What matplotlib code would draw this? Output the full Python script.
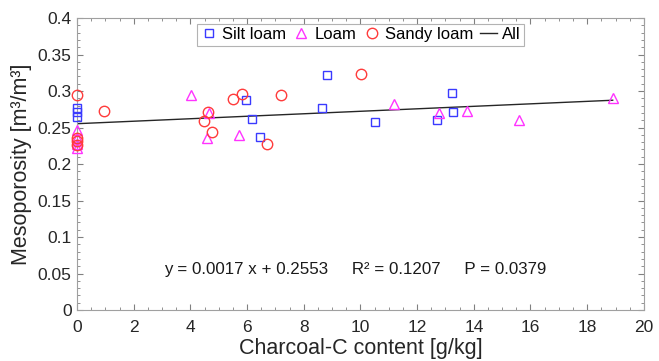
import numpy as np
import matplotlib
matplotlib.use("Agg")
import matplotlib.pyplot as plt
from matplotlib.ticker import MultipleLocator

plt.rcParams["font.family"] = ["Liberation Sans", "DejaVu Sans"]

# data
silt_x = [0, 0, 0, 5.96, 6.17, 6.46, 8.64, 8.82, 10.51, 12.7, 13.23, 13.26]
silt_y = [0.277, 0.271, 0.265, 0.288, 0.262, 0.237, 0.277, 0.322, 0.258, 0.260, 0.297, 0.271]

loam_x = [0, 0, 0, 0, 4.02, 4.58, 4.65, 5.71, 11.2, 12.77, 13.76, 15.6, 18.9]
loam_y = [0.246, 0.236, 0.228, 0.222, 0.294, 0.236, 0.270, 0.240, 0.282, 0.270, 0.273, 0.260, 0.290]

sandy_x = [0, 0, 0, 0, 0.95, 4.48, 4.62, 4.76, 5.5, 5.82, 6.7, 7.2, 10.02]
sandy_y = [0.294, 0.236, 0.232, 0.226, 0.273, 0.259, 0.271, 0.244, 0.289, 0.296, 0.227, 0.295, 0.323]

SLOPE = 0.0017
INTERCEPT = 0.2553
STATS_TEXT = "y = 0.0017 x + 0.2553     R\u00b2 = 0.1207     P = 0.0379"

fig = plt.figure(figsize=(6.59, 3.61), dpi=100)
ax = fig.add_axes([0.117, 0.141, 0.86, 0.809])

ms = 6
ax.plot(silt_x, silt_y, "s", mfc="none", mec="#3a3aff", mew=1.0, ms=ms,
        label="Silt loam", clip_on=False, zorder=3)
ax.plot(loam_x, loam_y, "^", mfc="none", mec="#ff33ff", mew=1.0, ms=ms + 1.5,
        label="Loam", clip_on=False, zorder=3)
ax.plot(sandy_x, sandy_y, "o", mfc="none", mec="#ff3b3b", mew=1.0, ms=ms + 1.5,
        label="Sandy loam", clip_on=False, zorder=3)

all_x = np.array(silt_x + loam_x + sandy_x)
lx = np.array([all_x.min(), all_x.max()])
ax.plot(lx, SLOPE * lx + INTERCEPT, "-", color="#262626", lw=1.0, label="All")

ax.text(9.8, 0.055, STATS_TEXT, ha="center", va="center", fontsize=12.2, color="#1a1a1a")

ax.set_xlim(0, 20)
ax.set_ylim(0, 0.4)
ax.set_xticks(np.arange(0, 21, 2))
ax.set_yticks(np.arange(0, 0.401, 0.05))
ax.set_yticklabels(["0", "0.05", "0.1", "0.15", "0.2", "0.25", "0.3", "0.35", "0.4"])
ax.xaxis.set_minor_locator(MultipleLocator(0.5))
ax.yaxis.set_minor_locator(MultipleLocator(0.01))
ax.tick_params(which="both", direction="in", top=True, right=True, color="#808080",
               labelsize=12.5, labelcolor="#262626")
ax.tick_params(which="major", length=4)
ax.tick_params(which="minor", length=2.5)
ax.tick_params(axis="x", pad=7)
ax.tick_params(axis="y", pad=4)
for s in ax.spines.values():
    s.set_color("#a0a0a0")
    s.set_linewidth(0.8)

ax.set_xlabel("Charcoal-C content [g/kg]", fontsize=15.5, color="#262626", labelpad=2)
ax.set_ylabel("Mesoporosity [m\u00b3/m\u00b3]", fontsize=15.5, color="#262626", labelpad=4)

leg = ax.legend(loc="upper center", ncol=4, fontsize=12, frameon=True, fancybox=False,
                edgecolor="#a0a0a0", handlelength=1.0, handletextpad=0.3,
                columnspacing=0.4, borderpad=0.2, borderaxespad=0.35,
                bbox_to_anchor=(0.5, 1.0))
leg.get_frame().set_linewidth(0.8)

fig.savefig("out.png", dpi=100)
